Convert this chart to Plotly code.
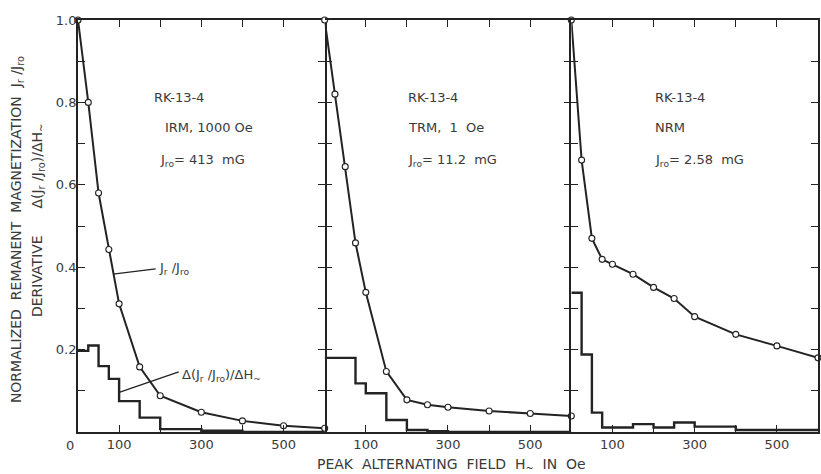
import plotly.graph_objects as go

# ---------------- data ----------------
H_irm = [0, 25, 50, 75, 100, 150, 200, 300, 400, 500, 600]
J_irm = [1.0, 0.80, 0.58, 0.443, 0.311, 0.158, 0.088, 0.048, 0.027, 0.015, 0.009]

H_trm = [0, 25, 50, 75, 100, 150, 200, 250, 300, 400, 500, 600]
J_trm = [1.0, 0.82, 0.644, 0.459, 0.339, 0.147, 0.078, 0.066, 0.060, 0.051, 0.045, 0.039]

H_nrm = [0, 25, 50, 75, 100, 150, 200, 250, 300, 400, 500, 600]
J_nrm = [1.0, 0.66, 0.47, 0.419, 0.407, 0.383, 0.351, 0.324, 0.280, 0.237, 0.209, 0.180]

# derivative histograms (bin edges and values)
edges_irm = [0, 25, 50, 75, 100, 150, 200, 300, 400, 600]
deriv_irm = [0.197, 0.21, 0.16, 0.129, 0.075, 0.035, 0.007, 0.003, 0.0]

edges_trm = [0, 75, 100, 150, 200, 250, 300, 600]
deriv_trm = [0.18, 0.118, 0.094, 0.029, 0.005, 0.002, 0.0]

edges_nrm = [0, 25, 50, 75, 150, 200, 250, 300, 400, 600]
deriv_nrm = [0.338, 0.188, 0.047, 0.011, 0.019, 0.011, 0.023, 0.013, 0.005]

x_tickvals = [100, 200, 300, 400, 500]
x_ticktext = ["100", "", "300", "", "500"]
y_tickvals = [0.1, 0.2, 0.3, 0.4, 0.5, 0.6, 0.7, 0.8, 0.9, 1.0]
y_ticktext = ["", "0.2", "", "0.4", "", "0.6", "", "0.8", "", "1.0"]

sample = "RK-13-4"
panel_titles = ["IRM, 1000 Oe", "TRM,&nbsp;&nbsp;1&nbsp;&nbsp;Oe", "NRM"]
panel_jro = ["413&nbsp;&nbsp;mG", "11.2&nbsp;&nbsp;mG", "2.58&nbsp;&nbsp;mG"]

# ---------------- figure ----------------
INK = "#232323"
TXT = "#3a3a3a"
FONT = "DejaVu Sans"
SP = "&nbsp;&nbsp;"

fig = go.Figure()
panels = [
    (H_irm, J_irm, edges_irm, deriv_irm),
    (H_trm, J_trm, edges_trm, deriv_trm),
    (H_nrm, J_nrm, edges_nrm, deriv_nrm),
]
for i, (h, j, e, d) in enumerate(panels):
    xa = "x" if i == 0 else f"x{i+1}"
    ya = "y" if i == 0 else f"y{i+1}"
    fig.add_trace(go.Scatter(
        x=e, y=d + [d[-1]], mode="lines", line=dict(color=INK, width=2.4, shape="hv"),
        xaxis=xa, yaxis=ya, cliponaxis=False, showlegend=False, hoverinfo="skip"))
    fig.add_trace(go.Scatter(
        x=h, y=j, mode="lines+markers",
        line=dict(color=INK, width=2),
        marker=dict(symbol="circle", size=6, color="white", line=dict(color=INK, width=1.1)),
        xaxis=xa, yaxis=ya, cliponaxis=False, showlegend=False))

ax_common = dict(range=[0, 600], showline=True, linecolor=INK, linewidth=1.6,
                 mirror="ticks", ticks="inside", ticklen=7, tickwidth=1.4, tickcolor=INK,
                 tickvals=x_tickvals, ticktext=x_ticktext, showgrid=False, zeroline=False,
                 tickfont=dict(family=FONT, size=13, color=TXT))
ay_common = dict(range=[0, 1.0], linecolor=INK, linewidth=1.8,
                 mirror="ticks", ticks="inside", ticklen=7, tickwidth=1.4, tickcolor=INK,
                 tickvals=y_tickvals, ticktext=y_ticktext, showgrid=False, zeroline=False,
                 tickfont=dict(family=FONT, size=13, color=TXT))

doms = [[0, 1/3], [1/3, 2/3], [2/3, 1]]
fig.update_layout(
    xaxis=dict(domain=doms[0], anchor="y", **ax_common),
    xaxis2=dict(domain=doms[1], anchor="y2", **ax_common),
    xaxis3=dict(domain=doms[2], anchor="y3", **ax_common),
    yaxis=dict(anchor="x", showline=True, ticklabelstandoff=-3, **ay_common),
    yaxis2=dict(anchor="x2", matches="y", showline=False, showticklabels=False, **ay_common),
    yaxis3=dict(anchor="x3", matches="y", showline=True, showticklabels=False, **ay_common),
)

ann = []
xrefs = ["x", "x2", "x3"]
yrefs = ["y", "y2", "y3"]
lefts = [[180, 206, 194], [199, 199, 199], [199, 199, 199]]
for i in range(3):
    lines = [sample, panel_titles[i], "J<sub>ro</sub>= " + panel_jro[i]]
    ys = [0.813, 0.738, 0.658]
    for k in range(3):
        ann.append(dict(x=lefts[i][k], y=ys[k], xref=xrefs[i], yref=yrefs[i], text=lines[k],
                        showarrow=False, xanchor="left", yanchor="middle",
                        font=dict(family=FONT, size=13, color=TXT)))

# curve labels
ann.append(dict(x=192, y=0.396, xref="x", yref="y", text="J<sub>r</sub> /J<sub>ro</sub>",
                showarrow=False, xanchor="left", yanchor="middle",
                font=dict(family=FONT, size=13, color=TXT)))
ann.append(dict(x=247, y=0.136, xref="x", yref="y",
                text="Δ(J<sub>r</sub> /J<sub>ro</sub>)/ΔH<sub>~</sub>",
                showarrow=False, xanchor="left", yanchor="middle",
                font=dict(family=FONT, size=13, color=TXT)))
# zero label
ann.append(dict(x=0, y=0, xref="x", yref="y", text="0", showarrow=False,
                xanchor="center", yanchor="top", xshift=-8, yshift=-4,
                font=dict(family=FONT, size=13, color=TXT)))
# axis titles
ann.append(dict(x=0, y=0.490, xref="paper", yref="paper", xshift=-61, textangle=-90,
                text="NORMALIZED" + SP + "REMANENT" + SP + "MAGNETIZATION" + SP
                     + "J<sub>r</sub> /J<sub>ro</sub>",
                showarrow=False, xanchor="center", yanchor="middle",
                font=dict(family=FONT, size=14, color=TXT)))
ann.append(dict(x=0, y=0.512, xref="paper", yref="paper", xshift=-40, textangle=-90,
                text="DERIVATIVE" + SP + SP + SP + "Δ(J<sub>r</sub> /J<sub>ro</sub>)/ΔH<sub>~</sub>",
                showarrow=False, xanchor="center", yanchor="middle",
                font=dict(family=FONT, size=14, color=TXT)))
ann.append(dict(x=0.505, y=0, xref="paper", yref="paper", yshift=-33,
                text="PEAK" + SP + "ALTERNATING" + SP + "FIELD" + SP + "H<sub>~</sub>" + SP
                     + "IN" + SP + "Oe",
                showarrow=False, xanchor="center", yanchor="middle",
                font=dict(family=FONT, size=14, color=TXT)))

shapes = [
    dict(type="line", xref="x", yref="y", x0=85, y0=0.383, x1=189, y1=0.396,
         line=dict(color=INK, width=1.3)),
    dict(type="line", xref="x", yref="y", x0=102, y0=0.097, x1=245, y1=0.146,
         line=dict(color=INK, width=1.3)),
]

fig.update_layout(
    width=821, height=474,
    margin=dict(l=78, r=1, t=20, b=42),
    paper_bgcolor="white", plot_bgcolor="white",
    annotations=ann, shapes=shapes,
    font=dict(family=FONT, size=13, color=TXT),
)

fig.write_html("out.html", config={"displayModeBar": False},
               post_script="document.body.style.margin='0px';")
